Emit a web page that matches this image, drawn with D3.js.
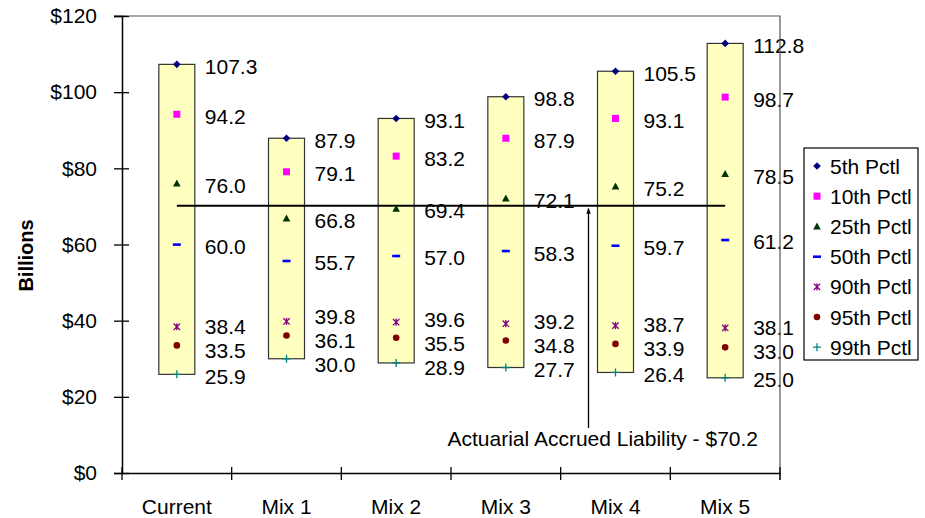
<!DOCTYPE html>
<html>
<head>
<meta charset="utf-8">
<script src="https://cdn.jsdelivr.net/npm/d3@7"></script>
<style>
  html, body { margin: 0; padding: 0; background: #fff; }
  svg { display: block; font-family: Arial, "Liberation Sans", sans-serif; }
</style>
</head>
<body>
<svg id="chart" width="925" height="518"></svg>
<script>
// Funded-status outcomes by asset mix, in $ billions
const categories = ["Current", "Mix 1", "Mix 2", "Mix 3", "Mix 4", "Mix 5"];
const seriesNames = ["5th Pctl", "10th Pctl", "25th Pctl", "50th Pctl", "90th Pctl", "95th Pctl", "99th Pctl"];
const p5  = [107.3, 87.9, 93.1, 98.8, 105.5, 112.8];
const p10 = [94.2, 79.1, 83.2, 87.9, 93.1, 98.7];
const p25 = [76.0, 66.8, 69.4, 72.1, 75.2, 78.5];
const p50 = [60.0, 55.7, 57.0, 58.3, 59.7, 61.2];
const p90 = [38.4, 39.8, 39.6, 39.2, 38.7, 38.1];
const p95 = [33.5, 36.1, 35.5, 34.8, 33.9, 33.0];
const p99 = [25.9, 30.0, 28.9, 27.7, 26.4, 25.0];
const yTicks = [0, 20, 40, 60, 80, 100, 120];
const liability = 70.2;
const liabilityLabel = "Actuarial Accrued Liability - $70.2";
const yTitle = "Billions";

const seriesValues = [p5, p10, p25, p50, p90, p95, p99];
const seriesColors = ["#000080", "#FF00FF", "#003300", "#0000FF", "#800080", "#800000", "#008080"];
const seriesShapes = ["diamond", "square", "triangle", "dash", "star", "circle", "plus"];

const FONT = "Arial, 'Liberation Sans', sans-serif";
const FS = 21;

const svg = d3.select("#chart");
const plot = { left: 122, right: 780, top: 16, bottom: 473 };

const x = d3.scaleBand().domain(categories).range([plot.left, plot.right]).padding(0);
const y = d3.scaleLinear().domain([0, 120]).range([plot.bottom, plot.top]);
const cx = c => x(c) + x.bandwidth() / 2;
const barW = 36;

// marker drawing helper
function drawMarker(g, shape, color, px, py) {
  switch (shape) {
    case "diamond":
      g.append("path").attr("d", `M${px},${py - 3.8}L${px + 3.8},${py}L${px},${py + 3.8}L${px - 3.8},${py}Z`).attr("fill", color);
      break;
    case "square":
      g.append("rect").attr("x", px - 3.5).attr("y", py - 3.5).attr("width", 7).attr("height", 7).attr("fill", color);
      break;
    case "triangle":
      g.append("path").attr("d", `M${px},${py - 4}L${px + 3.8},${py + 3}L${px - 3.8},${py + 3}Z`).attr("fill", color);
      break;
    case "dash":
      g.append("rect").attr("x", px - 4).attr("y", py - 1.2).attr("width", 8).attr("height", 2.6).attr("fill", color);
      break;
    case "star":
      g.append("path").attr("d", `M${px - 3.2},${py - 3.2}L${px + 3.2},${py + 3.2}M${px + 3.2},${py - 3.2}L${px - 3.2},${py + 3.2}M${px},${py - 3.6}L${px},${py + 3.6}`)
        .attr("stroke", color).attr("stroke-width", 1.3).attr("fill", "none");
      break;
    case "circle":
      g.append("circle").attr("cx", px).attr("cy", py).attr("r", 3.3).attr("fill", color);
      break;
    case "plus":
      g.append("path").attr("d", `M${px - 4},${py}L${px + 4},${py}M${px},${py - 4}L${px},${py + 4}`)
        .attr("stroke", color).attr("stroke-width", 1.3).attr("fill", "none");
      break;
  }
}

// range bars from 99th to 5th percentile
svg.append("g").selectAll("rect")
  .data(categories)
  .join("rect")
  .attr("x", (c) => cx(c) - barW / 2)
  .attr("y", (c, i) => y(p5[i]))
  .attr("width", barW)
  .attr("height", (c, i) => y(p99[i]) - y(p5[i]))
  .attr("fill", "#FFFFC0")
  .attr("stroke", "#333")
  .attr("stroke-width", 1.2);

// liability reference line
svg.append("line")
  .attr("x1", cx(categories[0])).attr("x2", cx(categories[categories.length - 1]))
  .attr("y1", y(liability)).attr("y2", y(liability))
  .attr("stroke", "#000").attr("stroke-width", 2);

// markers
const markers = svg.append("g");
seriesValues.forEach((vals, s) => {
  vals.forEach((v, i) => drawMarker(markers, seriesShapes[s], seriesColors[s], cx(categories[i]), y(v)));
});

// value labels, nudged apart vertically within each column so they don't collide
const labels = svg.append("g").attr("font-size", FS).attr("fill", "#000");
const minGap = 24;
categories.forEach((c, i) => {
  const items = seriesValues.map(vals => ({ v: vals[i], ly: y(vals[i]) + 2 }))
    .sort((a, b) => a.ly - b.ly);
  for (let iter = 0; iter < 80; iter++) {
    let moved = false;
    for (let k = 1; k < items.length; k++) {
      const gap = items[k].ly - items[k - 1].ly;
      if (gap < minGap - 0.01) {
        const push = (minGap - gap) / 2;
        items[k - 1].ly -= push;
        items[k].ly += push;
        moved = true;
      }
    }
    if (!moved) break;
  }
  items.forEach(it => {
    labels.append("text")
      .attr("x", cx(c) + 28)
      .attr("y", it.ly)
      .attr("dy", "0.36em")
      .text(it.v.toFixed(1));
  });
});

// plot frame: top and right edges
svg.append("path")
  .attr("d", `M${plot.left - 8},${plot.top}H${plot.right}V${plot.bottom + 7}`)
  .attr("fill", "none").attr("stroke", "#555").attr("stroke-width", 1.2);

// y axis
const yAxis = svg.append("g")
  .attr("transform", `translate(${plot.left},0)`)
  .call(d3.axisLeft(y).tickValues(yTicks).tickSize(8).tickPadding(17).tickFormat(d => "$" + d));
yAxis.select(".domain").attr("stroke", "#000").attr("stroke-width", 1.5);
yAxis.selectAll(".tick line").attr("x1", 7).attr("stroke-width", 1.3);
yAxis.selectAll(".tick text").attr("font-size", FS).attr("font-family", FONT).attr("fill", "#000");

// x axis
const xAxis = svg.append("g")
  .attr("transform", `translate(0,${plot.bottom})`)
  .call(d3.axisBottom(x).tickSize(0).tickPadding(26));
xAxis.select(".domain").attr("stroke", "#000").attr("stroke-width", 1.5);
xAxis.selectAll(".tick text").attr("font-size", FS).attr("font-family", FONT).attr("fill", "#000");
const edges = categories.map(c => x(c)).concat([x(categories[categories.length - 1]) + x.bandwidth()]);
xAxis.append("g").selectAll("line")
  .data(edges)
  .join("line")
  .attr("x1", d => d).attr("x2", d => d)
  .attr("y1", -6).attr("y2", 7)
  .attr("stroke", "#000").attr("stroke-width", 1.3);

// y axis title
svg.append("text")
  .attr("transform", `translate(33,${(plot.top + plot.bottom) / 2 + 11}) rotate(-90)`)
  .attr("text-anchor", "middle")
  .attr("font-size", 20).attr("font-weight", "bold")
  .text(yTitle);

// annotation arrow pointing at the liability line
const arrowX = 588.5;
svg.append("line")
  .attr("x1", arrowX).attr("x2", arrowX)
  .attr("y1", y(liability) + 3).attr("y2", 428)
  .attr("stroke", "#000").attr("stroke-width", 1.3);
svg.append("path")
  .attr("d", `M${arrowX},${y(liability) + 2}L${arrowX + 2.2},${y(liability) + 8}L${arrowX - 2.2},${y(liability) + 8}Z`)
  .attr("fill", "#000");
svg.append("text")
  .attr("x", 447.5).attr("y", 446)
  .attr("font-size", FS)
  .text(liabilityLabel);

// legend
const legend = svg.append("g");
legend.append("rect")
  .attr("x", 804).attr("y", 148).attr("width", 114).attr("height", 212)
  .attr("fill", "#fff").attr("stroke", "#000").attr("stroke-width", 1.2);
seriesNames.forEach((name, s) => {
  const ly = 166 + s * 30.2;
  drawMarker(legend, seriesShapes[s], seriesColors[s], 817, ly);
  legend.append("text")
    .attr("x", 830).attr("y", ly).attr("dy", "0.36em")
    .attr("font-size", FS)
    .text(name);
});
</script>
</body>
</html>
